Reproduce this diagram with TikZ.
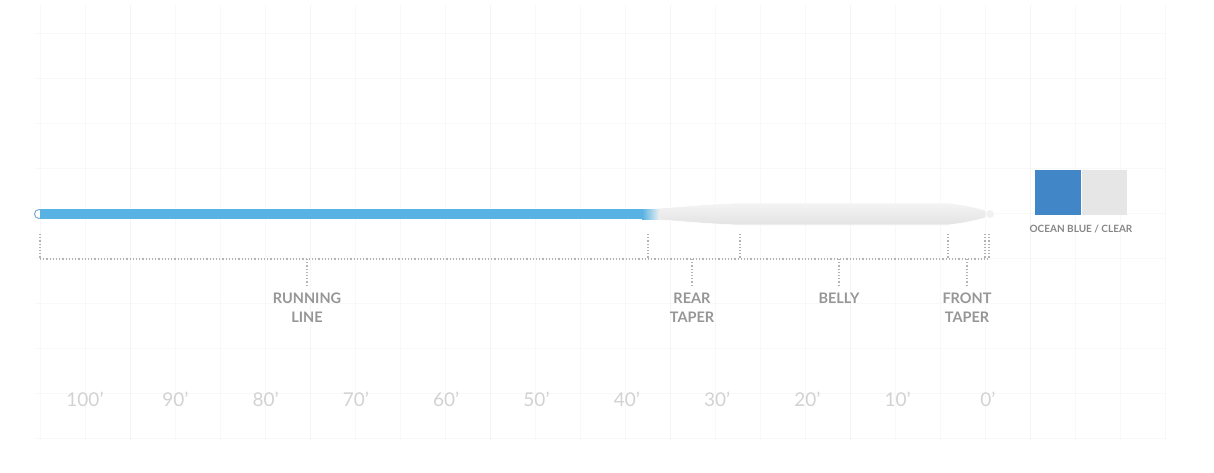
\documentclass[tikz,border=0pt]{standalone}
\usepackage{fontspec}
\setmainfont{Lato}
\usepackage{tikz}
\usetikzlibrary{positioning, calc}
\definecolor{runblue}{HTML}{58B2E3}
\definecolor{oceanblue}{HTML}{4187C8}
\definecolor{clearcol}{HTML}{E6E6E6}
\definecolor{headgray}{HTML}{E3E3E3}
\definecolor{labelgray}{HTML}{969696}
\definecolor{numgray}{HTML}{D2D2D2}
\definecolor{gridgray}{HTML}{F8F8F8}
\tikzstyle{seglabel} = [align=center, font=\bfseries\fontsize{14.5}{18.5}\selectfont, text=labelgray, inner sep=0pt, anchor=north]
\tikzstyle{footlabel} = [font=\fontsize{19}{20}\selectfont, text=numgray, inner sep=0pt]
\tikzstyle{dotline} = [draw=black!30, line width=1.1pt, dash pattern=on 1.1pt off 2.1pt]
\tikzstyle{swatch} = [rectangle, minimum width=46pt, minimum height=45pt, inner sep=0pt, anchor=north west]
\tikzstyle{gridline} = [draw=gridgray, line width=0.8pt]

\begin{document}
\begin{tikzpicture}[x=1pt, y=-1pt]
    \useasboundingbox (0,0) rectangle (1214,473);
    % faint background grid
    \foreach \y in {33,78,...,440}
        \draw [gridline] (35,\y) -- (1165,\y);
    \foreach \x in {40,85,...,1165}
        \draw [gridline] (\x,5) -- (\x,440);
    \foreach \x in {130,310,...,1100}
        \draw [gridline, draw=black!4] (\x,5) -- (\x,440);

    % running line
    \draw [oceanblue!70, line width=1pt, fill=white] (39,214) circle (4.5);
    \draw [line width=10pt, runblue] (40,214) -- (648,214);
    % head
    \draw [white, line width=0.8pt, fill=headgray!50] (990,214) circle (4.5);
    \shade [top color=headgray!40, bottom color=headgray, draw=white, line width=0.6pt]
        (648,209) .. controls (690,206) and (715,203.5) .. (740,203)
        -- (948,203) .. controls (965,205) and (978,208) .. (986,210.5)
        -- (986,217.5)
        .. controls (978,220) and (965,223) .. (948,225)
        -- (740,225) .. controls (715,224.5) and (690,222) .. (648,219) -- cycle;
    \shade [left color=runblue, right color=headgray!50] (642,209) rectangle (660,219);

    % bracket points
    \coordinate (tail) at (40,259);
    \coordinate (tip) at (990,259);
    \foreach \n/\x in {a/40,b/648,c/740,d/948,e/985,f/989} {
        \coordinate (\n top) at (\x,234);
        \coordinate (\n low) at (\x,259);
    }
    \draw [dotline] (tail) -- (tip);
    \foreach \n in {a,b,c,d,e,f}
        \draw [dotline] (\n top) -- (\n low);

    % segment labels
    \node (runlab) [seglabel] at (307,293) {RUNNING\\LINE};
    \node (rearlab) [seglabel] at (692,293) {REAR\\TAPER};
    \node (bellylab) [seglabel] at (839,293) {BELLY};
    \node (frontlab) [seglabel] at (967,293) {FRONT\\TAPER};
    \foreach \lab/\x in {runlab/307,rearlab/692,bellylab/839,frontlab/967}
        \draw [dotline] (\x,259) -- ([yshift=6pt]\lab.north);

    % length scale
    \foreach \i/\t in {0/100,1/90,2/80,3/70,4/60,5/50,6/40,7/30,8/20,9/10,10/0}
        \node (ft\i) [footlabel] at ({85+90.3*\i},399) {\t’};

    % colour swatch
    \node (blue) [swatch, fill=oceanblue] at (1035,170) {};
    \node (clear) [swatch, fill=clearcol, minimum width=45pt, right=0pt of blue] {};
    \node (colname) [font=\bfseries\fontsize{10}{12}\selectfont, text=labelgray!90!black, inner sep=0pt]
        at (1081,229) {OCEAN BLUE / CLEAR};
\end{tikzpicture}
\end{document}
